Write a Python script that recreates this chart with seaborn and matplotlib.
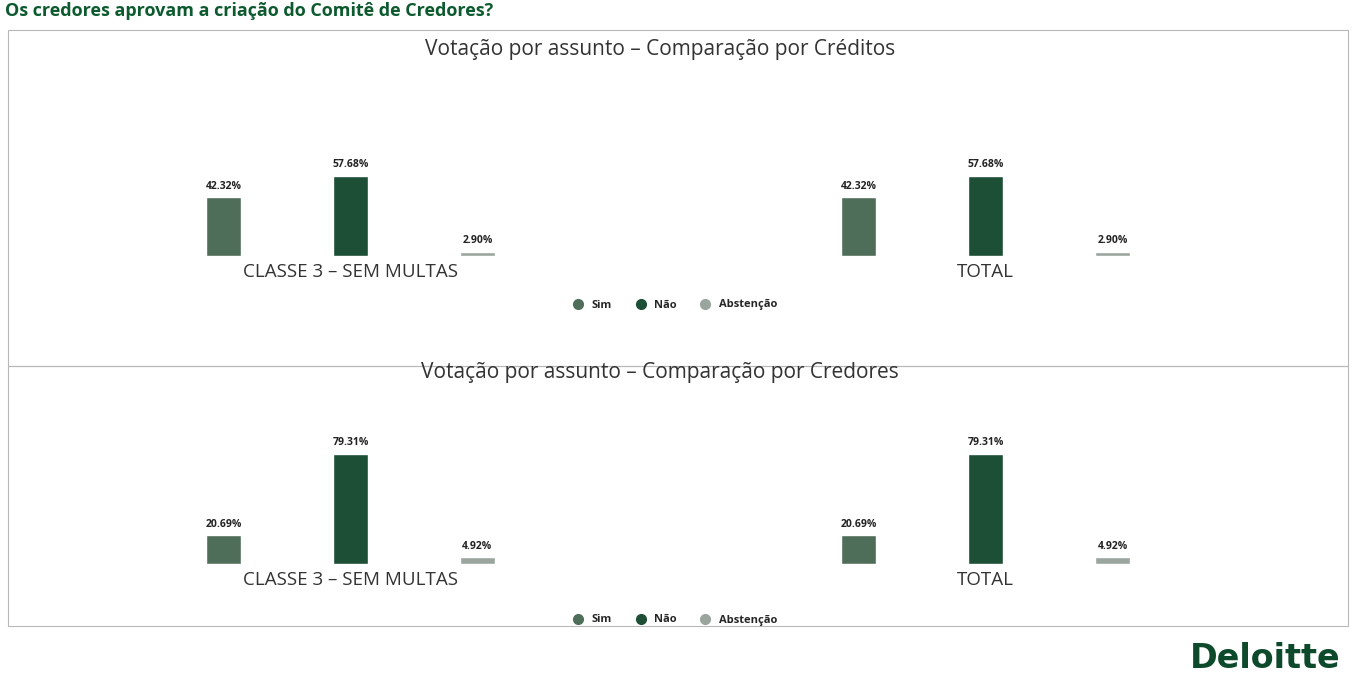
import pandas as pd
import matplotlib.pyplot as plt
import seaborn as sns
from matplotlib.lines import Line2D
from matplotlib.patches import Rectangle

# Dados
grupos = ["CLASSE 3 – SEM MULTAS", "TOTAL"]
votos = ["Sim", "Não", "Abstenção"]
creditos = {"CLASSE 3 – SEM MULTAS": [42.32, 57.68, 2.90],
            "TOTAL": [42.32, 57.68, 2.90]}
credores = {"CLASSE 3 – SEM MULTAS": [20.69, 79.31, 4.92],
            "TOTAL": [20.69, 79.31, 4.92]}
cores = ["#4f6e5a", "#1d4e36", "#9aa59e"]

titulo = "Os credores aprovam a criação do Comitê de Credores?"
subtitulos = ["Votação por assunto – Comparação por Créditos",
              "Votação por assunto – Comparação por Credores"]

sns.set_style("white")
plt.rcParams['font.family'] = ['Open Sans', 'DejaVu Sans']

W, H = 1355, 680
fig = plt.figure(figsize=(W / 100, H / 100), dpi=100)


def px(x, y):
    return x / W, 1 - y / H


def to_df(d):
    rows = []
    for g in grupos:
        for v, p in zip(votos, d[g]):
            rows.append({"grupo": g, "voto": v, "pct": p})
    return pd.DataFrame(rows)


# caixas dos paineis
for (y0, y1) in [(30, 366), (366, 626)]:
    fig.patches.append(Rectangle(px(8, y1), (1348 - 8) / W, (y1 - y0) / H,
                                 transform=fig.transFigure, fill=False,
                                 edgecolor="#b8b8b8", linewidth=0.8))

fig.text(*px(5, 11), titulo, fontsize=13, fontweight='bold', color="#0d5a2f",
         ha='left', va='center')

paineis = [(creditos, 256, 50, 305), (credores, 564, 372, 620)]
for i, (dados, base_y, tit_y, leg_y) in enumerate(paineis):
    left, bottom = px(33, base_y)
    ax = fig.add_axes([left, bottom, 1270 / W, 139 / H])
    df = to_df(dados)
    sns.barplot(data=df, x="grupo", y="pct", hue="voto", order=grupos,
                hue_order=votos, palette=cores, width=0.6, gap=0.72,
                legend=False, ax=ax, saturation=1)
    for c in ax.containers:
        ax.bar_label(c, fmt='%.2f%%', fontsize=7.5, fontweight='bold',
                     color="#222222", padding=4)
    ax.set_xlim(-0.5, 1.5)
    ax.set_ylim(0, 100)
    ax.set_xlabel("")
    ax.set_ylabel("")
    ax.set_yticks([])
    ax.tick_params(axis='x', length=0, pad=5, labelsize=13.5, labelcolor="#333333")
    sns.despine(ax=ax, left=True, bottom=True)
    ax.patch.set_alpha(0)

    fig.text(*px(660, tit_y), subtitulos[i], fontsize=15, color="#333333",
             ha='center', va='center')

    handles = [Line2D([0], [0], marker='o', linestyle='', markersize=7,
                      markerfacecolor=c, markeredgecolor=c) for c in cores]
    fig.legend(handles, votos, loc='center', bbox_to_anchor=px(672, leg_y),
               ncol=3, frameon=False, prop={'size': 8, 'weight': 'bold'},
               handletextpad=0.2, columnspacing=1.6)

fig.text(*px(1190, 675), "Deloitte", fontsize=24, fontweight='bold',
         color="#0d4a2c", ha='left', va='bottom', family=['DejaVu Sans'])

plt.savefig("out.png", dpi=100)
